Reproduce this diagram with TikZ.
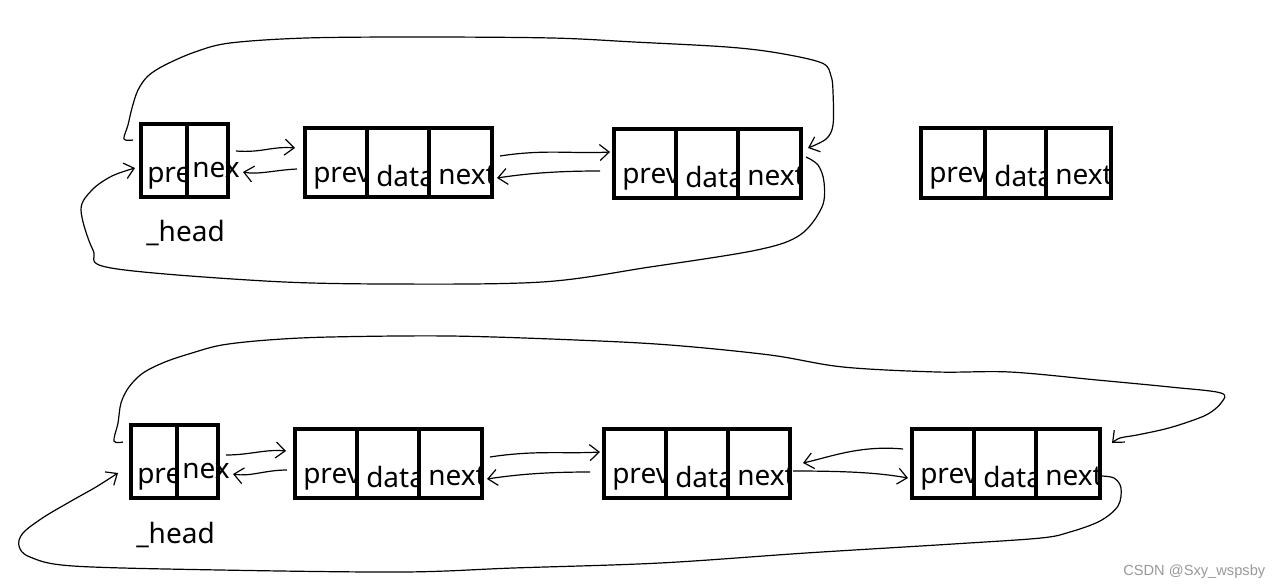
\documentclass[tikz,border=0pt]{standalone}
\usepackage{fontspec}
\newfontfamily\diagfont{Noto Sans}
\newfontfamily\wmfont{Liberation Sans}
\usetikzlibrary{arrows.meta,fit}
\tikzset{
  celltext/.style={anchor=base west, inner sep=0pt, font=\diagfont\fontsize{21}{25}\selectfont},
  boxnode/.style={draw, line width=3.4pt, inner sep=0pt},
  divline/.style={line width=3.2pt},
  conn/.style={line width=0.9pt, -{Straight Barb[length=7pt,width=12pt]}},
  loopconn/.style={line width=0.9pt, -{Straight Barb[length=7pt,width=12pt]}},
  wmark/.style={anchor=base west, inner sep=0pt, text=black!40, font=\wmfont\fontsize{11}{13}\selectfont},
}
% #1 name, #2 x1, #3 divider, #4 x2, #5 ytop, #6 ybot
\newcommand\headcell[6]{%
  \begin{scope}\clip (#2,#5) rectangle (#3,#6);
    \node[celltext] (#1p) at ({#2+6},{#5+58}) {pre};\end{scope}
  \node[boxnode, fit={(#2,#5) (#4,#6)}] (#1) {};
  \draw[divline] (#3,#5) -- (#3,#6);
  \node[celltext] (#1n) at ({#3+5},{#5+53}) {nex};
}
% #1 name, #2 x1, #3 d1, #4 d2, #5 x2, #6 ytop, #7 ybot
\newcommand\tricell[7]{%
  \begin{scope}\clip (#2,#6) rectangle (#3,#7);
    \node[celltext] (#1p) at ({#2+8},{#6+54}) {prev};\end{scope}
  \begin{scope}\clip (#3,#6) rectangle (#4,#7);
    \node[celltext] (#1d) at ({#3+9},{#6+58}) {data};\end{scope}
  \begin{scope}\clip (#4,#6) rectangle (#5,#7);
    \node[celltext] (#1n) at ({#4+9},{#6+56}) {next};\end{scope}
  \node[boxnode, fit={(#2,#6) (#5,#7)}] (#1) {};
  \draw[divline] (#3,#6) -- (#3,#7);
  \draw[divline] (#4,#6) -- (#4,#7);
}
\begin{document}
\begin{tikzpicture}[x=0.75pt,y=-0.75pt]
\fill[white] (0,0) rectangle (1281,586);
\useasboundingbox (0,0) rectangle (1281,586);

% ---------- top row ----------
\headcell{hA}{141}{187}{228}{124}{197}
\tricell{nA}{305}{367}{429}{492}{128}{197}
\tricell{mA}{614}{676}{738}{801}{129}{198}
\tricell{kA}{921}{985}{1046}{1111}{128}{198}
\node[celltext] (headA) at (146,241) {\_head};

% ---------- bottom row ----------
\headcell{hB}{131}{177}{218}{425}{498}
\tricell{nB}{295}{357}{419}{482}{429}{498}
\tricell{mB}{604}{666}{728}{790}{429}{498}
\tricell{kB}{912}{974}{1036}{1100}{429}{498}
\node[celltext] (headB) at (136,543) {\_head};

% ---------- top row connectors ----------
\coordinate (t1s) at (236,151); \coordinate (t1e) at (295,148);
\draw[conn] (t1s) .. controls (262,153) and (272,146) .. (t1e);
\coordinate (t2s) at (297,169); \coordinate (t2e) at (243,172);
\draw[conn] (t2s) .. controls (275,170) and (258,175) .. (t2e);
\coordinate (t3s) at (500,156); \coordinate (t3e) at (610,152);
\draw[conn] (t3s) .. controls (545,149) and (572,154) .. (t3e);
\coordinate (t4s) at (600,171); \coordinate (t4e) at (497,178);
\draw[conn] (t4s) .. controls (560,171) and (530,173) .. (t4e);

% top loop: _head.prev -> last node
\coordinate (l1s) at (133,140); \coordinate (l1e) at (808,148);
\draw[loopconn] plot[smooth, tension=0.55] coordinates {(l1s) (124,139) (128,125) (132,108) (138,90) (148,76) (165,65) (195,52) (230,43) (306,38) (419,37) (552,38) (634,42) (727,47) (778,53) (822,63) (831,76) (833,92) (833,125) (826,139) (l1e)};

% top loop: last node.next -> _head
\coordinate (l2s) at (806,157); \coordinate (l2e) at (135,168);
\draw[loopconn] plot[smooth, tension=0.55] coordinates {(l2s) (818,165) (824,182) (822,207) (800,235) (757,250) (650,267) (542,282) (388,284) (265,281) (111,268) (93,250) (81,210) (92,190) (112,176) (l2e)};

% ---------- bottom row connectors ----------
\coordinate (b1s) at (226,455); \coordinate (b1e) at (286,451);
\draw[conn] (b1s) .. controls (250,455) and (265,449) .. (b1e);
\coordinate (b2s) at (287,470); \coordinate (b2e) at (233,474);
\draw[conn] (b2s) .. controls (265,470) and (250,477) .. (b2e);
\coordinate (b3s) at (490,457); \coordinate (b3e) at (600,452);
\draw[conn] (b3s) .. controls (535,450) and (565,454) .. (b3e);
\coordinate (b4s) at (590,472); \coordinate (b4e) at (487,479);
\draw[conn] (b4s) .. controls (550,472) and (520,474) .. (b4e);
\coordinate (b5s) at (903,449); \coordinate (b5e) at (803,463);
\draw[conn] (b5s) .. controls (860,445) and (830,457) .. (b5e);
\coordinate (b6s) at (793,471); \coordinate (b6e) at (908,478);
\draw[conn] (b6s) .. controls (850,471) and (880,473) .. (b6e);

% bottom loop: _head.prev -> last node
\coordinate (l3s) at (123,442); \coordinate (l3e) at (1112,443);
\draw[loopconn] plot[smooth, tension=0.55] coordinates {(l3s) (114,441) (118,423) (121,403) (129,387) (143,373) (165,362) (192,353) (222,345) (268,340) (330,337) (450,336) (576,340) (670,345) (770,355) (843,367) (937,372) (1010,372) (1097,380) (1170,387) (1221,393) (1221,403) (1208,414) (1188,422) (1165,429) (1137,435) (1120,438) (l3e)};

% bottom loop: last node.next -> _head
\coordinate (l4s) at (1101,476); \coordinate (l4e) at (118,473);
\draw[loopconn] plot[smooth, tension=0.55] coordinates {(l4s) (1114,478) (1121,488) (1118,506) (1100,521) (1070,532) (1041,538) (953,544) (806,553) (660,563) (513,568) (403,572) (220,570) (73,566) (30,557) (19,546) (23,533) (44,517) (73,500) (96,487) (l4e)};

% watermark
\node[wmark] (wm) at (1123,575) {CSDN @Sxy\_wspsby};
\end{tikzpicture}
\end{document}
